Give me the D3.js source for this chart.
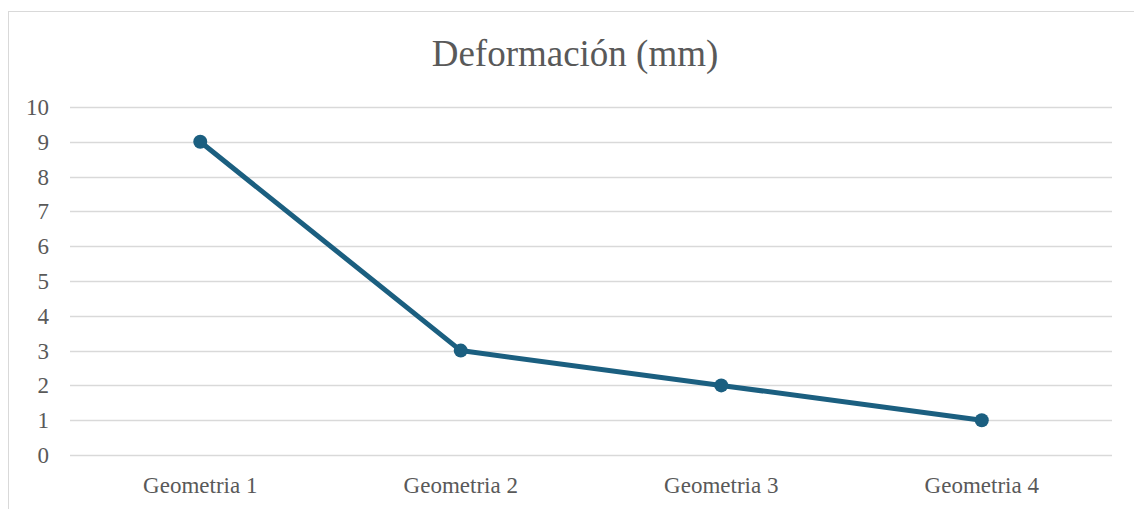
<!DOCTYPE html>
<html>
<head>
<meta charset="utf-8">
<script src="https://cdn.jsdelivr.net/npm/d3@7"></script>
<style>
  body { margin: 0; background: #fff; }
  svg text { font-family: "Liberation Serif", "Times New Roman", serif; fill: #595959; }
</style>
</head>
<body>
<div id="chart"></div>
<script>
const categories = ['Geometria 1', 'Geometria 2', 'Geometria 3', 'Geometria 4'];
const values = [9, 3, 2, 1];
const yTicks = [0, 1, 2, 3, 4, 5, 6, 7, 8, 9, 10];
const title = 'Deformación (mm)';

const width = 1134, height = 509;
const svg = d3.select('#chart')
    .append('svg')
    .attr('width', width)
    .attr('height', height);

// chart area border
svg.append('rect')
    .attr('x', 8.5).attr('y', 11.5)
    .attr('width', width).attr('height', height)
    .attr('fill', 'none')
    .attr('stroke', '#d9d9d9')
    .attr('stroke-width', 1);

const x = d3.scaleBand().domain(categories).range([70, 1112]);
const y = d3.scaleLinear().domain([0, 10]).range([455, 107]);

svg.append('text')
    .attr('x', 575).attr('y', 66)
    .attr('text-anchor', 'middle')
    .attr('font-size', 37)
    .text(title);

const grid = svg.append('g');
grid.selectAll('line')
    .data(yTicks)
    .enter().append('line')
    .attr('x1', 70).attr('x2', 1112)
    .attr('y1', d => Math.round(y(d)) + 0.5)
    .attr('y2', d => Math.round(y(d)) + 0.5)
    .attr('stroke', '#d9d9d9')
    .attr('stroke-width', 1.5);

svg.append('g')
    .selectAll('text')
    .data(yTicks)
    .enter().append('text')
    .attr('x', 49)
    .attr('y', d => y(d) + 8)
    .attr('text-anchor', 'end')
    .attr('font-size', 23)
    .text(d => d);

svg.append('g')
    .selectAll('text')
    .data(categories)
    .enter().append('text')
    .attr('x', d => x(d) + x.bandwidth() / 2)
    .attr('y', 493)
    .attr('text-anchor', 'middle')
    .attr('font-size', 23)
    .text(d => d);

const line = d3.line()
    .x((d, i) => x(categories[i]) + x.bandwidth() / 2)
    .y(d => y(d));

svg.append('path')
    .datum(values)
    .attr('d', line)
    .attr('fill', 'none')
    .attr('stroke', '#1b5f80')
    .attr('stroke-width', 5)
    .attr('stroke-linejoin', 'round');

svg.append('g')
    .selectAll('circle')
    .data(values)
    .enter().append('circle')
    .attr('cx', (d, i) => x(categories[i]) + x.bandwidth() / 2)
    .attr('cy', d => y(d))
    .attr('r', 7)
    .attr('fill', '#1b5f80');
</script>
</body>
</html>
